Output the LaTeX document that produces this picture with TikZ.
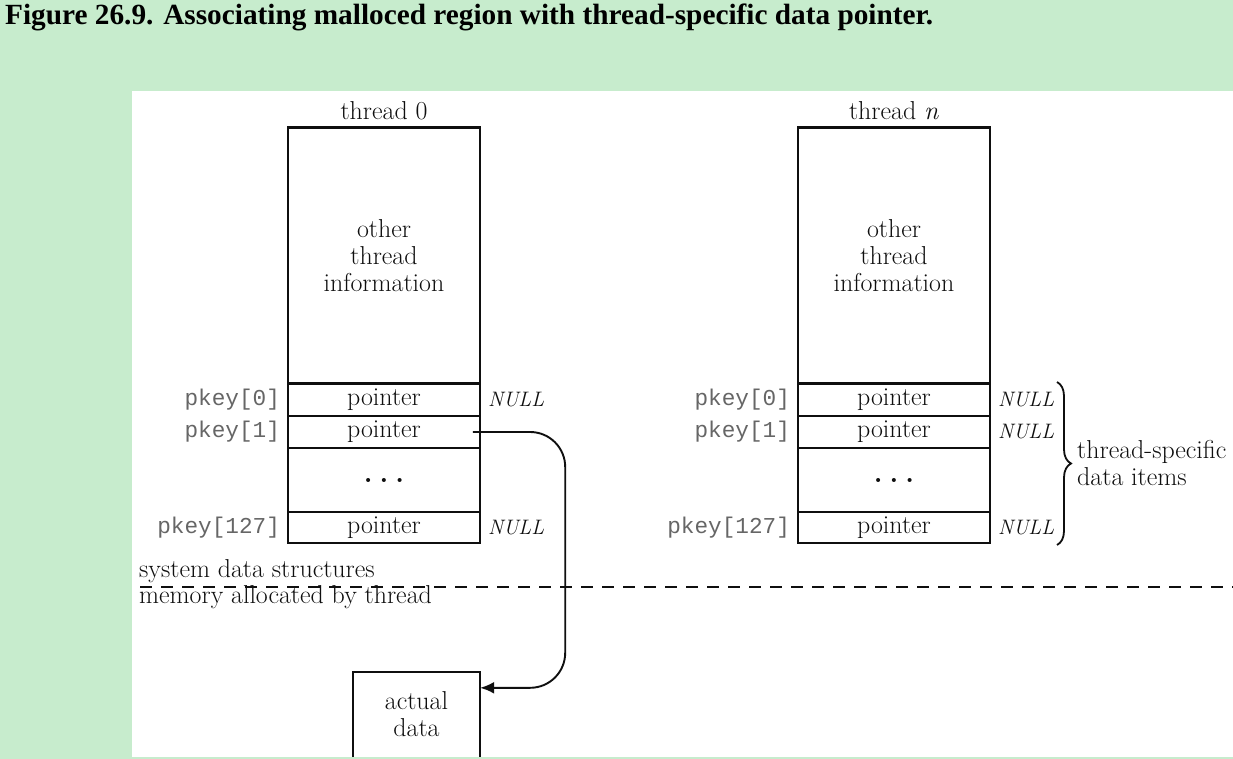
\documentclass[tikz,border=0pt]{standalone}
\usepackage{fontspec}
\setmonofont{Liberation Mono}
\newfontfamily\titlefont{Liberation Serif}
\usetikzlibrary{arrows.meta,decorations.pathreplacing,calc}
\definecolor{bggreen}{RGB}{199,236,205}
\definecolor{ink}{RGB}{15,15,15}
\tikzset{
  lbl/.style={font=\fontsize{26}{27}\selectfont, text=ink, inner sep=0pt, align=center},
  cell/.style={draw=ink, line width=1.7bp, minimum width=192bp, inner sep=0pt,
    font=\fontsize{26}{27}\selectfont, text=ink, align=center},
  keylbl/.style={font=\ttfamily\fontsize{22.8}{24}\selectfont, text=black!60, inner sep=0pt, anchor=east},
  nulllbl/.style={font=\itshape\fontsize{21}{22}\selectfont, text=ink, inner sep=0pt, anchor=west},
  conn/.style={draw=ink, line width=1.9bp},
  thickedge/.style={draw=ink, line width=2.6bp},
  dotsfont/.style={font=\bfseries\fontsize{28}{28}\selectfont},
}
\newcommand{\celldots}{.\kern7bp.\kern7bp.}
\begin{document}
\begin{tikzpicture}[x=1bp,y=-1bp]
\useasboundingbox (0,0) rectangle (1233,759);
\fill[bggreen] (0,0) rectangle (1233,759);
\fill[white] (132,91) rectangle (1233,757);
\node[anchor=base west, inner sep=0pt, font=\titlefont\bfseries\fontsize{29.4}{30}\selectfont] (title) at (5,25)
  {Figure 26.9. Associating malloced region with thread-specific data pointer.};

% thread 0
\node[lbl, anchor=base] (h0) at (384,120) {thread 0};
\node[cell, minimum height=255bp] (a0) at (384,255.5) {other\\thread\\information};
\node[cell, minimum height=33bp] (a1) at (384,399.5) {pointer};
\node[cell, minimum height=32bp] (a2) at (384,432) {pointer};
\node[cell, dotsfont, minimum height=64bp] (a3) at (384,480) {\celldots};
\node[cell, minimum height=31bp] (a4) at (384,527.5) {pointer};
\draw[thickedge] (a0.north west) -- (a0.north east);
\draw[thickedge] (a0.south west) -- (a0.south east);
\node[keylbl] (ka1) at ([xshift=-7bp]a1.west) {pkey[0]};
\node[keylbl] (ka2) at ([xshift=-7bp]a2.west) {pkey[1]};
\node[keylbl] (ka4) at ([xshift=-7bp]a4.west) {pkey[127]};
\node[nulllbl] (na1) at ([xshift=7bp]a1.east) {NULL};
\node[nulllbl] (na4) at ([xshift=7bp]a4.east) {NULL};

% thread n
\node[lbl, anchor=base] (hn) at (894,120) {thread \textit{n}};
\node[cell, minimum height=255bp] (b0) at (894,255.5) {other\\thread\\information};
\node[cell, minimum height=33bp] (b1) at (894,399.5) {pointer};
\node[cell, minimum height=32bp] (b2) at (894,432) {pointer};
\node[cell, dotsfont, minimum height=64bp] (b3) at (894,480) {\celldots};
\node[cell, minimum height=31bp] (b4) at (894,527.5) {pointer};
\draw[thickedge] (b0.north west) -- (b0.north east);
\draw[thickedge] (b0.south west) -- (b0.south east);
\node[keylbl] (kb1) at ([xshift=-7bp]b1.west) {pkey[0]};
\node[keylbl] (kb2) at ([xshift=-7bp]b2.west) {pkey[1]};
\node[keylbl] (kb4) at ([xshift=-7bp]b4.west) {pkey[127]};
\node[nulllbl] (nb1) at ([xshift=7bp]b1.east) {NULL};
\node[nulllbl] (nb2) at ([xshift=7bp]b2.east) {NULL};
\node[nulllbl] (nb4) at ([xshift=7bp]b4.east) {NULL};

% brace
\draw[ink, line width=1.8bp, decorate, decoration={brace, amplitude=14bp}]
  (1057,382) -- (1057,545);
\node[lbl, align=left, anchor=west] (tsd) at (1077,463) {thread-specific\\data items};

% separator
\node[lbl, anchor=base west] (sys) at (139,577) {system data structures};
\node[lbl, anchor=base west] (mem) at (139,603) {memory allocated by thread};
\draw[ink, line width=1.9bp, dash pattern=on 12bp off 9bp] (140,587) -- (1233,587);

% actual data
\node[lbl, minimum width=127bp, minimum height=85bp] (ad) at (416.5,714.5) {actual\\data};
\draw[ink, line width=1.8bp] (ad.south west) -- (ad.north west) -- (ad.north east) -- (ad.south east);

% pointer arrow
\draw[conn, rounded corners=35bp, -{Latex[length=14bp,width=12bp]}]
  ([xshift=-8bp]a2.east) -| ($(ad.north east)+(85,16)$) -- ([yshift=-16bp]ad.north east);
\end{tikzpicture}
\end{document}
